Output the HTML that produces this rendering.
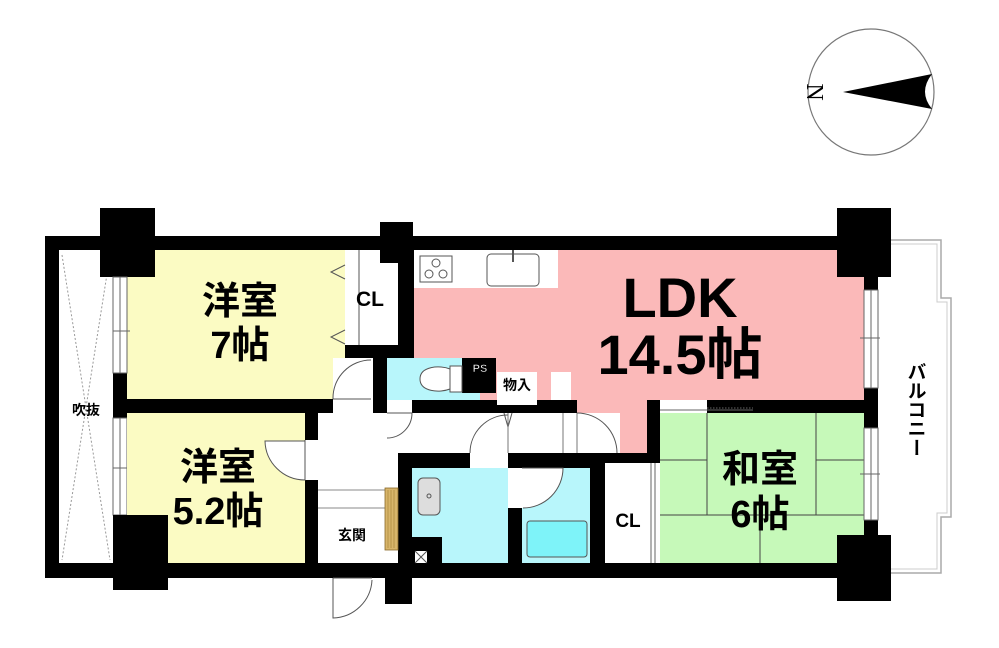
<!DOCTYPE html>
<html><head><meta charset="utf-8"><style>
html,body{margin:0;padding:0;background:#fff;width:999px;height:648px;overflow:hidden}
svg{display:block}
text{font-family:"Liberation Sans","Noto Sans CJK JP",sans-serif;font-weight:bold;fill:#000}
</style></head><body>
<svg width="999" height="648" viewBox="0 0 999 648" xmlns="http://www.w3.org/2000/svg">
<!-- compass -->
<circle cx="871" cy="92" r="63" fill="#fff" stroke="#777" stroke-width="1.2"/>
<path d="M843,92 L932,74 Q918,92 932,109 Z" fill="#000"/>
<text x="0" y="0" font-size="24" transform="translate(815,92) rotate(90)" text-anchor="middle" dy="8" style="font-family:'Liberation Serif',serif;font-weight:normal">N</text>

<!-- balcony -->
<path d="M878,240 L941,240 L941,298 L951,298 L951,517 L941,517 L941,573 L878,573" fill="#fff" stroke="#aaa" stroke-width="1.5"/>
<path d="M878,244 L937,244 L937,302 L947,302 L947,513 L937,513 L937,569 L878,569" fill="none" stroke="#ccc" stroke-width="1"/>

<!-- floor base black -->
<rect x="45" y="236" width="833" height="342" fill="#000"/>

<!-- 吹抜 -->
<rect x="59" y="250" width="54" height="313" fill="#fff"/>
<path d="M62,255 L110,560 M110,255 L62,560" stroke="#999" stroke-width="1" stroke-dasharray="2,2"/>

<!-- LDK pink -->
<rect x="414" y="250" width="450" height="150" fill="#fbb9b9"/>
<rect x="577" y="372" width="70" height="81" fill="#fbb9b9"/>
<!-- kitchen counter -->
<rect x="414" y="250" width="144" height="38" fill="#fff"/>
<rect x="420" y="256" width="32" height="26" fill="none" stroke="#555" stroke-width="1"/>
<circle cx="436" cy="263" r="4" fill="none" stroke="#555"/>
<circle cx="429" cy="274" r="4" fill="none" stroke="#555"/>
<circle cx="443" cy="274" r="4" fill="none" stroke="#555"/>
<rect x="487" y="254" width="52" height="32" rx="4" fill="none" stroke="#555"/>
<line x1="513" y1="250" x2="513" y2="262" stroke="#555" stroke-width="2"/>

<!-- 洋室7 -->
<rect x="127" y="250" width="218" height="149" fill="#fbfbc3"/>
<rect x="100" y="208" width="55" height="69" fill="#000"/>
<!-- CL top -->
<rect x="345" y="250" width="53" height="95" fill="#fff"/>
<line x1="359" y1="250" x2="359" y2="345" stroke="#555"/>
<path d="M345,265 L331,272 L345,279 M345,330 L331,337 L345,344" fill="none" stroke="#555"/>
<rect x="380" y="222" width="33" height="41" fill="#000"/>
<!-- windows west -->
<rect x="113" y="277" width="14" height="96" fill="#fff" stroke="#666"/>
<line x1="120" y1="277" x2="120" y2="373" stroke="#666"/>
<line x1="113" y1="331" x2="130" y2="331" stroke="#666"/>
<rect x="113" y="418" width="14" height="97" fill="#fff" stroke="#666"/>
<line x1="120" y1="418" x2="120" y2="515" stroke="#666"/>
<line x1="113" y1="468" x2="130" y2="468" stroke="#666"/>

<!-- 洋室5.2 -->
<rect x="127" y="413" width="178" height="150" fill="#fbfbc3"/>
<rect x="113" y="515" width="55" height="75" fill="#000"/>
<!-- door 5.2 -->
<rect x="305" y="440" width="13" height="40" fill="#fff"/>
<line x1="305" y1="440" x2="305" y2="480" stroke="#555"/>
<path d="M265,441 L305,441 L305,480 A40,40 0 0 1 265,441 Z" fill="#fff" stroke="#555"/>

<!-- hall -->
<rect x="318" y="413" width="80" height="150" fill="#fff"/>
<rect x="318" y="413" width="259" height="40" fill="#fff"/>
<rect x="333" y="358" width="40" height="55" fill="#fff"/>
<path d="M333,399 A38,38 0 0 1 371,360" fill="none" stroke="#555"/>
<line x1="333" y1="399" x2="371" y2="399" stroke="#555"/>
<line x1="318" y1="490" x2="385" y2="490" stroke="#888"/>
<line x1="318" y1="508" x2="385" y2="508" stroke="#888"/>
<rect x="385" y="488" width="13" height="62" fill="#d8b56a" stroke="#8a6a2a" stroke-width="0.8"/>
<path d="M388,490 V548 M391,490 V548 M394,490 V548" stroke="#a8853a" stroke-width="0.7"/>
<!-- toilet -->
<rect x="387" y="358" width="93" height="42" fill="#b8f6fb"/>
<rect x="462" y="358" width="34" height="35" fill="#000"/>
<rect x="387" y="400" width="25" height="13" fill="#fff"/>
<path d="M387,413 L412,413 A25,25 0 0 1 387,438" fill="#fff" stroke="#555"/>
<path d="M420,379 C420,366 440,365 450,369 L450,389 C440,393 420,392 420,379 Z" fill="#fff" stroke="#555"/>
<rect x="450" y="366" width="12" height="26" fill="#fff" stroke="#555"/>
<text x="480" y="372" font-size="11" text-anchor="middle" stroke="#000" stroke-width="0.6" style="fill:#fff">PS</text>
<!-- 物入 -->
<rect x="497" y="372" width="40" height="33" fill="#fff"/>
<rect x="551" y="372" width="20" height="28" fill="#fff"/>
<!-- doors in hall -->
<rect x="577" y="413" width="43" height="40" fill="#fff"/>
<path d="M470,453 A38,38 0 0 1 508,415" fill="none" stroke="#555"/>
<path d="M504,413 L508,427 L512,413" fill="none" stroke="#555"/>
<line x1="508" y1="413" x2="508" y2="453" stroke="#777"/>
<line x1="563" y1="413" x2="563" y2="453" stroke="#777"/>
<line x1="577" y1="413" x2="577" y2="453" stroke="#777"/>
<path d="M577,413 A40,40 0 0 1 617,453" fill="none" stroke="#555"/>
<!-- washroom -->
<rect x="412" y="468" width="96" height="95" fill="#b8f6fb"/>
<rect x="412" y="453" width="56" height="15" fill="#000"/>
<rect x="470" y="453" width="38" height="15" fill="#fff"/>
<rect x="418" y="478" width="22" height="37" rx="5" fill="#ddd" stroke="#555"/>
<circle cx="429" cy="496" r="2" fill="none" stroke="#555"/>
<rect x="412" y="537" width="30" height="26" fill="#000"/>
<rect x="415" y="551" width="12" height="12" fill="#fff"/>
<path d="M415,551 L427,563 M427,551 L415,563" stroke="#555"/>
<!-- bath -->
<rect x="522" y="468" width="68" height="95" fill="#b8f6fb"/>
<rect x="508" y="468" width="16" height="40" fill="#fff"/>
<path d="M522,468 L563,468 A40,40 0 0 1 523,508" fill="#fff" stroke="#555"/>
<rect x="527" y="521" width="60" height="36" rx="3" fill="#7ef3f9" stroke="#555"/>
<!-- washitsu -->
<rect x="660" y="413" width="204" height="150" fill="#c6f9b9"/>
<rect x="660" y="400" width="47" height="13" fill="#fff"/>
<line x1="660" y1="410" x2="753" y2="410" stroke="#666"/>
<line x1="707" y1="408" x2="753" y2="408" stroke="#666" stroke-dasharray="1.5,1.5"/>
<path d="M660,460 H707 M816,460 H864 M660,515 H864 M707,413 V515 M816,413 V515 M760,515 V563" stroke="#444" stroke-width="1"/>
<!-- CL washitsu -->
<rect x="605" y="463" width="42" height="100" fill="#fff"/>
<rect x="647" y="463" width="13" height="100" fill="#fff"/>
<line x1="651" y1="463" x2="651" y2="563" stroke="#666"/>
<line x1="655" y1="463" x2="655" y2="563" stroke="#666"/>
<!-- east windows -->
<rect x="864" y="290" width="14" height="98" fill="#fff" stroke="#666"/>
<line x1="871" y1="290" x2="871" y2="388" stroke="#666"/>
<line x1="860" y1="338" x2="880" y2="338" stroke="#666"/>
<rect x="864" y="428" width="14" height="92" fill="#fff" stroke="#666"/>
<line x1="871" y1="428" x2="871" y2="520" stroke="#666"/>
<line x1="860" y1="474" x2="880" y2="474" stroke="#666"/>
<!-- columns right -->
<rect x="837" y="208" width="54" height="69" fill="#000"/>
<rect x="837" y="535" width="54" height="66" fill="#000"/>
<!-- entrance door outward -->
<line x1="333" y1="578" x2="372" y2="578" stroke="#555"/>
<path d="M333,578 L333,618 A40,40 0 0 0 372,580" fill="none" stroke="#555"/>
<rect x="385" y="570" width="27" height="34" fill="#000"/>

<!-- labels -->
<text x="240" y="314" font-size="38" text-anchor="middle">洋室</text>
<text x="240" y="358" font-size="38" text-anchor="middle">7帖</text>
<text x="218" y="480" font-size="38" text-anchor="middle">洋室</text>
<text x="218" y="524" font-size="38" text-anchor="middle">5.2帖</text>
<text x="680" y="317" font-size="56" text-anchor="middle">LDK</text>
<text x="680" y="374" font-size="56" text-anchor="middle">14.5帖</text>
<text x="760" y="482" font-size="38" text-anchor="middle">和室</text>
<text x="760" y="527" font-size="38" text-anchor="middle">6帖</text>
<text x="370" y="306" font-size="21" text-anchor="middle">CL</text>
<text x="628" y="527" font-size="19" text-anchor="middle">CL</text>
<text x="86" y="415" font-size="14" text-anchor="middle">吹抜</text>
<text x="352" y="540" font-size="14" text-anchor="middle">玄関</text>
<text x="517" y="390" font-size="14" text-anchor="middle">物入</text>
<text x="915" y="362" font-size="19" style="writing-mode:vertical-rl" text-anchor="start">バルコニー</text>
</svg>
</body></html>
